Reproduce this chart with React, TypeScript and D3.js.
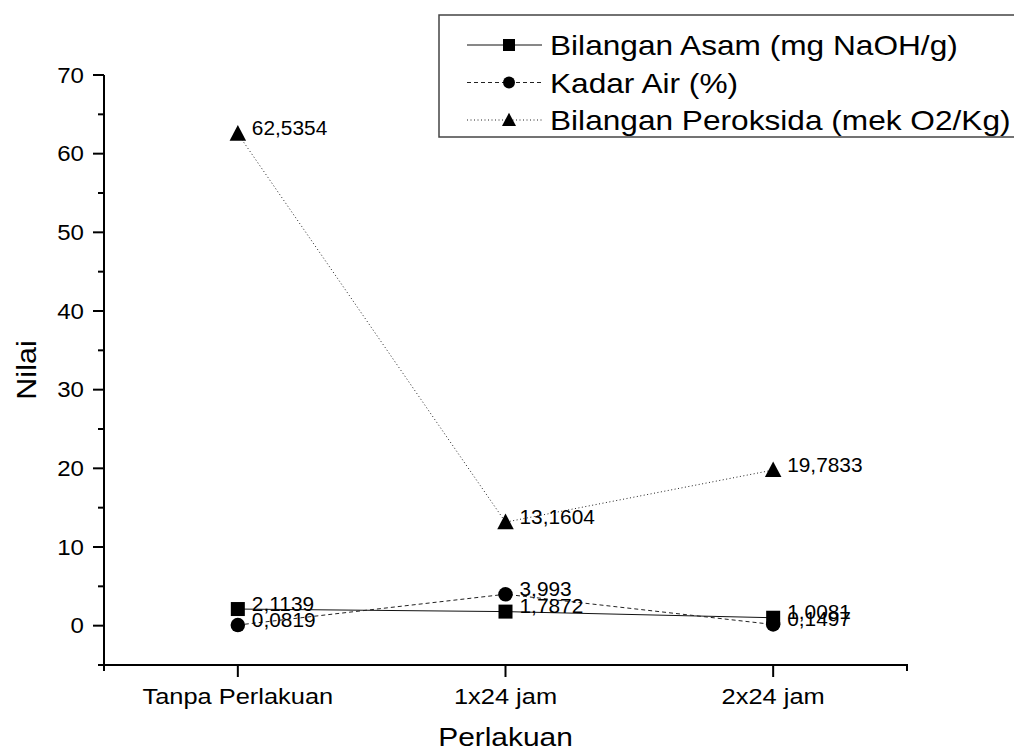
import React from "react";
import * as d3 from "d3";

const categories = ["Tanpa Perlakuan", "1x24 jam", "2x24 jam"];
const asamValues = [2.1139, 1.7872, 1.0081];
const airValues = [0.0819, 3.993, 0.1497];
const peroksidaValues = [62.5354, 13.1604, 19.7833];
const asamLabels = ["2,1139", "1,7872", "1,0081"];
const airLabels = ["0,0819", "3,993", "0,1497"];
const peroksidaLabels = ["62,5354", "13,1604", "19,7833"];
const seriesNames = [
  "Bilangan Asam (mg NaOH/g)",
  "Kadar Air (%)",
  "Bilangan Peroksida (mek O2/Kg)",
];
const yMajorTicks = [0, 10, 20, 30, 40, 50, 60, 70];
const yMinorTicks = [-5, 5, 15, 25, 35, 45, 55, 65];

const FONT = "'Liberation Sans', Arial, sans-serif";

function SText(props: {
  x: number;
  y: number;
  sx?: number;
  size: number;
  anchor?: string;
  rotate?: number;
  children: React.ReactNode;
}) {
  const { x, y, sx = 1, size, anchor = "start", rotate = 0, children } = props;
  return (
    <g transform={`translate(${x},${y}) rotate(${rotate}) scale(${sx},1)`}>
      <text x={0} y={0} fontSize={size} fontFamily={FONT} textAnchor={anchor} fill="#000">
        {children}
      </text>
    </g>
  );
}

function Marker(props: { kind: string; x: number; y: number; s: number }) {
  const { kind, x, y, s } = props;
  if (kind === "square")
    return <rect x={x - s / 2} y={y - s / 2} width={s} height={s} fill="#000" />;
  if (kind === "circle") return <circle cx={x} cy={y} r={s / 2} fill="#000" />;
  const h = s * 0.95;
  return (
    <path
      d={`M${x},${y - h * 0.55} L${x + s / 2},${y + h * 0.45} L${x - s / 2},${y + h * 0.45} Z`}
      fill="#000"
    />
  );
}

export default function App() {
  const W = 1014;
  const H = 753;
  const x = d3.scaleLinear().domain([0.5, 3.5]).range([104, 907]);
  const y = d3.scaleLinear().domain([-5, 70]).range([665, 75]);
  const idx = categories.map((_, i) => i + 1);

  const series = [
    { values: asamValues, labels: asamLabels, kind: "square", dash: "none", size: 14, stroke: "#111" },
    { values: airValues, labels: airLabels, kind: "circle", dash: "4,3", size: 14.5, stroke: "#222" },
    { values: peroksidaValues, labels: peroksidaLabels, kind: "triangle", dash: "1,2.5", size: 16.5, stroke: "#222" },
  ];

  const line = d3
    .line<number>()
    .x((_, i) => x(idx[i]))
    .y((v) => y(v));

  return (
    <svg width={W} height={H} style={{ position: "absolute", left: 0, top: 0, background: "#fff" }}>
      <rect width={W} height={H} fill="#fff" />
      {series.map((s, si) => (
        <path
          key={"l" + si}
          d={line(s.values) || ""}
          fill="none"
          stroke={s.stroke}
          strokeWidth={1}
          strokeDasharray={s.dash}
        />
      ))}
      {series.map((s, si) =>
        s.values.map((v, i) => (
          <Marker key={`m${si}-${i}`} kind={s.kind} x={x(idx[i])} y={y(v)} s={s.size} />
        ))
      )}
      {series.map((s, si) =>
        s.values.map((v, i) => (
          <SText key={`t${si}-${i}`} x={x(idx[i]) + 14} y={y(v) + 1.5} size={19.5} sx={1.07}>
            {s.labels[i]}
          </SText>
        ))
      )}
      <line x1={104} x2={104} y1={y(70)} y2={671} stroke="#000" strokeWidth={2} />
      <line x1={98} x2={907} y1={665} y2={665} stroke="#000" strokeWidth={2} />
      {yMajorTicks.map((t) => (
        <g key={"ym" + t}>
          <line x1={93} x2={104} y1={y(t)} y2={y(t)} stroke="#000" strokeWidth={2} />
          <SText x={84} y={y(t) + 7.8} size={21.5} sx={1.12} anchor="end">
            {String(t)}
          </SText>
        </g>
      ))}
      {yMinorTicks.map((t) => (
        <line key={"yn" + t} x1={98} x2={104} y1={y(t)} y2={y(t)} stroke="#000" strokeWidth={2} />
      ))}
      {idx.map((c, i) => (
        <g key={"xm" + c}>
          <line x1={x(c)} x2={x(c)} y1={665} y2={677} stroke="#000" strokeWidth={2} />
          <SText x={x(c)} y={704} size={22.5} sx={1.13} anchor="middle">
            {categories[i]}
          </SText>
        </g>
      ))}
      <line x1={x(3.5)} x2={x(3.5)} y1={664} y2={671} stroke="#000" strokeWidth={2} />
      <SText x={(x(0.5) + x(3.5)) / 2} y={746} size={26} sx={1.15} anchor="middle">
        Perlakuan
      </SText>
      <g transform={`translate(36,370) rotate(-90) scale(1.13,1)`}>
        <text x={0} y={0} fontSize={27} fontFamily={FONT} textAnchor="middle" fill="#000">
          Nilai
        </text>
      </g>
      <rect x={439} y={15} width={600} height={122} fill="#fff" stroke="#444" strokeWidth={1.5} />
      {series.map((s, si) => {
        const cy = 45 + si * 37.5;
        return (
          <g key={"lg" + si}>
            <line x1={467} x2={542} y1={cy} y2={cy} stroke={s.stroke} strokeWidth={1} strokeDasharray={s.dash} />
            <Marker kind={s.kind} x={509} y={cy} s={s.kind === "triangle" ? 14 : 12} />
            <SText x={550} y={cy + 10} size={28} sx={1.13}>
              {seriesNames[si]}
            </SText>
          </g>
        );
      })}
    </svg>
  );
}
